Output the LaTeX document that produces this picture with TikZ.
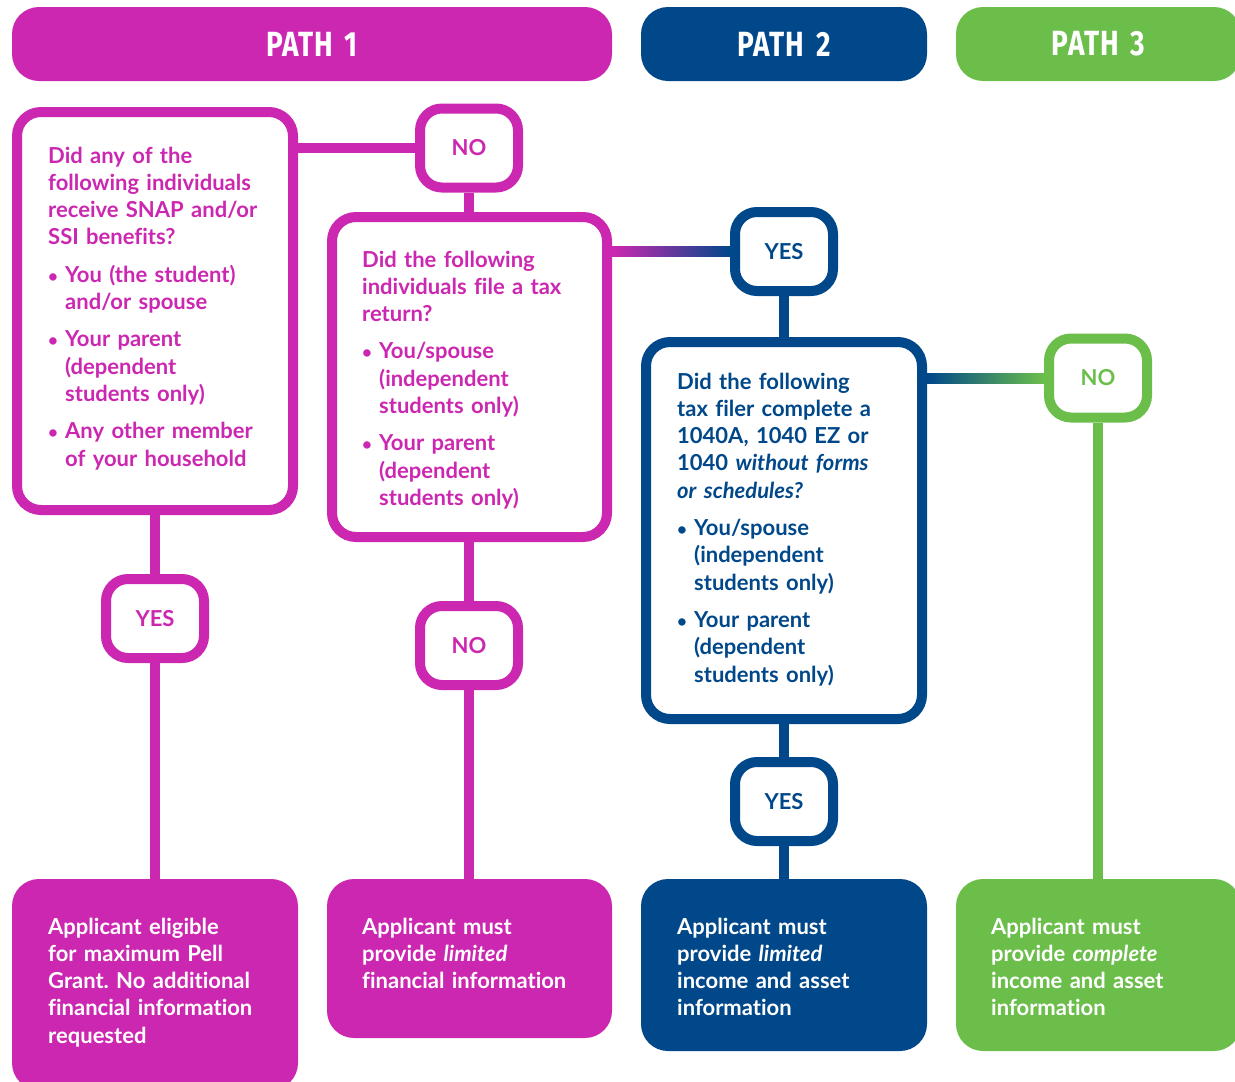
\documentclass[tikz,border=0pt]{standalone}
\usepackage{fontspec}
\setmainfont{Lato}[Ligatures=NoCommon]
\newfontfamily\headfont{Fira Sans}[FakeStretch=0.8, LetterSpace=3]
\usetikzlibrary{backgrounds}

\definecolor{pathpink}{HTML}{CC27B0}
\definecolor{pathblue}{HTML}{00488A}
\definecolor{pathgreen}{HTML}{6CBE4B}

\newcommand{\qbul}{\makebox[17pt][l]{\fontsize{17}{17}\selectfont\textbullet}}
\newcommand{\qind}{\hspace*{17pt}}
\frenchspacing

\tikzset{
  head/.style={rounded corners=27pt, minimum height=74pt, inner sep=0pt, text=white,
    font=\headfont\bfseries\fontsize{35}{35}\selectfont},
  qbox/.style={draw=#1, text=#1, line width=10pt, fill=white, rounded corners=24pt, inner sep=0pt},
  badge/.style={draw=#1, text=#1, line width=10pt, fill=white, rounded corners=22pt, minimum width=98pt,
    minimum height=79pt, inner sep=0pt, font=\bfseries\fontsize{22}{22}\selectfont},
  endbox/.style={fill=#1, rounded corners=27pt, inner sep=0pt},
  qtext/.style={anchor=base west, inner sep=0pt, text width=265pt, align=left, text=#1,
    font=\bfseries\fontsize{22}{27.3}\selectfont},
  link/.style={line width=10pt},
}

\begin{document}
\begin{tikzpicture}[x=1pt,y=-1pt]

	\useasboundingbox (0,0) rectangle (1235,1082);
	\clip (0,0) rectangle (1235,1082);
	%\draw[gray,step=50] (0,0) grid (1235,1082);

	% headers
	\node [head, fill=pathpink, minimum width=600pt] (p1) at (312,44) {PATH\,\,1};
	\node [head, fill=pathblue, minimum width=286pt] (p2) at (784,44) {PATH\,\,2};
	\node [head, fill=pathgreen, minimum width=285pt] (p3) at (1098.5,44) {PATH\,\,3};

	% question boxes
	\node [qbox=pathpink, minimum width=276pt, minimum height=398pt] (q1) at (155,311) {};
	\node [qbox=pathpink, minimum width=275pt, minimum height=320pt] (q2) at (469.5,377) {};
	\node [qbox=pathblue, minimum width=276pt, minimum height=377pt] (q3) at (784,530.5) {};

	% yes / no
	\node [badge=pathpink] (no1) at (469,148) {NO};
	\node [badge=pathblue] (yes2) at (784,251.5) {YES};
	\node [badge=pathgreen] (no3) at (1098,378) {NO};
	\node [badge=pathpink] (yes1) at (155,618.5) {YES};
	\node [badge=pathpink] (no2) at (469,645.5) {NO};
	\node [badge=pathblue] (yes3) at (784,801.5) {YES};

	% results
	\node [endbox=pathpink, minimum width=286pt, minimum height=211pt] (a1) at (155,984.5) {};
	\node [endbox=pathpink, minimum width=285pt, minimum height=159pt] (a2) at (469.5,958.5) {};
	\node [endbox=pathblue, minimum width=286pt, minimum height=172pt] (a3) at (784,965) {};
	\node [endbox=pathgreen, minimum width=285pt, minimum height=172pt] (a4) at (1098.5,965) {};

	% texts
	\node [qtext=pathpink] (q1t) at (48,163) {Did any of the\\ following individuals\\
		receive SNAP and/or\\ SSI benefits?\\[10pt]
		\qbul You (the student)\\ \qind and/or spouse\\[10pt]
		\qbul Your parent\\ \qind(dependent\\ \qind students only)\\[10pt]
		\qbul Any other member\\ \qind of your household};
	\node [qtext=pathpink] (q2t) at (362,267) {Did the following\\ individuals file a tax\\
		return?\\[10pt]
		\qbul You/spouse\\ \qind(independent\\ \qind students only)\\[10pt]
		\qbul Your parent\\ \qind(dependent\\ \qind students only)};
	\node [qtext=pathblue] (q3t) at (677,389) {Did the following\\ tax filer complete a\\
		1040A, 1040 EZ or\\ 1040 \textit{without forms}\\ \textit{or schedules?}\\[10pt]
		\qbul You/spouse\\ \qind(independent\\ \qind students only)\\[10pt]
		\qbul Your parent\\ \qind(dependent\\ \qind students only)};

	\node [qtext=white] (a1t) at (48,934) {Applicant eligible\\ for maximum Pell\\
		Grant. No additional\\ financial information\\ requested};
	\node [qtext=white] (a2t) at (362,934) {Applicant must\\ provide \textit{limited}\\
		financial information};
	\node [qtext=white] (a3t) at (677,934) {Applicant must\\ provide \textit{limited}\\
		income and asset\\ information};
	\node [qtext=white] (a4t) at (991,934) {Applicant must\\ provide \textit{complete}\\
		income and asset\\ information};

	% connectors
	\begin{scope}[on background layer]
		\draw [link, pathpink] (q1.east |- no1) -- (no1);
		\draw [link, pathpink] (no1) -- (no1 |- q2.north);
		\draw [link, pathpink] (yes1 |- q1.south) -- (yes1.north);
		\draw [link, pathpink] (yes1.south) -- (yes1 |- a1.north);
		\draw [link, pathpink] (no2 |- q2.south) -- (no2.north);
		\draw [link, pathpink] (no2.south) -- (no2 |- a2.north);
		\draw [link, pathblue] (yes2) -- (yes2 |- q3.north);
		\draw [link, pathblue] (yes3 |- q3.south) -- (yes3.north);
		\draw [link, pathblue] (yes3.south) -- (yes3 |- a3.north);
		\draw [link, pathgreen] (no3) -- (no3 |- a4.north);

		\coordinate (g2) at (q2.east |- yes2.west);
		\shade [left color=pathpink, right color=pathblue] ([yshift=5pt]g2) rectangle ([yshift=-5pt]yes2.west);
		\coordinate (g3) at (q3.east |- no3.west);
		\shade [left color=pathblue, right color=pathgreen] ([yshift=5pt]g3) rectangle ([yshift=-5pt]no3.west);
	\end{scope}
\end{tikzpicture}
\end{document}
